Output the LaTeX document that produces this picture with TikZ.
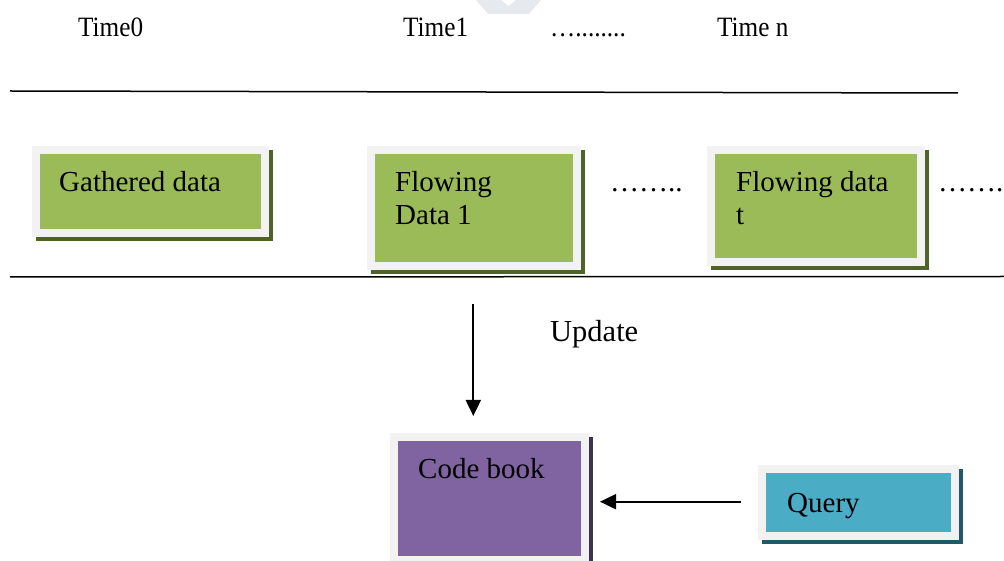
\documentclass[tikz,border=0pt]{standalone}
\usepackage{fontspec}
\setmainfont{Liberation Serif}
\usetikzlibrary{arrows.meta,backgrounds}
\definecolor{frameg}{HTML}{F2F2F2}
\definecolor{olivef}{HTML}{9BBB59}
\definecolor{olived}{HTML}{4F6228}
\definecolor{purpf}{HTML}{8064A2}
\definecolor{purpd}{HTML}{3F3151}
\definecolor{aquaf}{HTML}{4BACC6}
\definecolor{aquad}{HTML}{215968}
\definecolor{wmark}{HTML}{E6EAEE}
\newcommand{\narrowtxt}[1]{\scalebox{0.9}[1]{#1}}
\tikzset{
  boxbase/.style={draw=frameg, line width=8pt, inner sep=0pt, outer sep=0pt, rectangle},
  greenbox/.style={boxbase, fill=olivef},
  purplebox/.style={boxbase, fill=purpf},
  aquabox/.style={boxbase, fill=aquaf},
  boxtext/.style={anchor=base west, inner sep=0pt, font=\fontsize{29}{33}\selectfont, align=left},
  toptext/.style={anchor=base west, inner sep=0pt, font=\fontsize{28}{32}\selectfont},
  rule/.style={line width=1.5pt, black},
  flowarrow/.style={line width=2pt, -{Triangle[length=16pt,width=15pt]}},
}
\begin{document}
\begin{tikzpicture}[x=1pt,y=1pt]
\useasboundingbox (0,0) rectangle (1004,560);
% faint watermark
\fill[wmark] (476,560) -- (488,546) -- (529,546) -- (541,560) -- (516,560) -- (508.5,554) -- (501,560) -- cycle;
% time labels
\node[toptext] (t0) at (78,523) {\narrowtxt{Time0}};
\node[toptext] (t1) at (403,523) {\narrowtxt{Time1}};
\node[toptext] (tdots) at (550,523) {\narrowtxt{…........}};
\node[toptext] (tn) at (717,523) {\narrowtxt{Time n}};
% rules
\coordinate (r1a) at (10,469);
\coordinate (r1b) at (958,467);
\draw[rule] (r1a) -- (r1b);
\coordinate (r2a) at (10,283);
\coordinate (r2b) at (1004,283.5);
\draw[rule] (r2a) -- (r2b);
% boxes
\node[greenbox, minimum width=229pt, minimum height=83pt] (g0) at (150,368.5) {};
\node[greenbox, minimum width=206pt, minimum height=116.5pt] (g1) at (474,351.75) {};
\node[greenbox, minimum width=209.5pt, minimum height=112.5pt] (gt) at (815.75,353.75) {};
\node[purplebox, minimum width=191pt, minimum height=123pt] (cb) at (489.5,61.5) {};
\node[aquabox, minimum width=192.5pt, minimum height=66.5pt] (q) at (858.25,57.75) {};
\begin{scope}[on background layer]
  \foreach \n/\c in {g0/olived, g1/olived, gt/olived, cb/purpd, q/aquad}{
    \fill[\c] ([yshift=-8pt]\n.south west) rectangle ([xshift=8pt]\n.north east);
  }
\end{scope}
% box texts
\node[boxtext] (g0t) at (59,368) {Gathered data};
\node[boxtext] (g1t) at (395,335) {Flowing\\Data 1};
\node[boxtext] (gtt) at (736,335) {Flowing data\\t};
\node[boxtext] (cbt) at (418,82) {Code book};
\node[boxtext] (qt) at (787,48) {Query};
\node[boxtext] (d1) at (610,368) {……..};
\node[boxtext] (d2) at (938,368) {……..};
% update arrow
\coordinate (ua) at (473.3,256);
\coordinate (ub) at (473.3,144);
\draw[flowarrow] (ua) -- (ub);
\node[anchor=base west, inner sep=0pt, font=\fontsize{30.5}{34}\selectfont] (upd) at (550,218) {Update};
% query arrow
\coordinate (qa) at (741,58.3);
\coordinate (qb) at (600,58.3);
\draw[flowarrow] (qa) -- (qb);
\end{tikzpicture}
\end{document}
